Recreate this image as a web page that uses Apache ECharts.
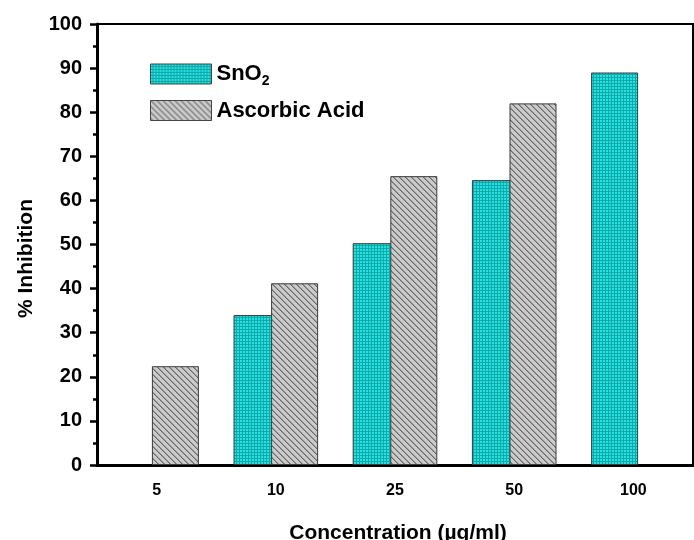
<!DOCTYPE html>
<html>
<head>
<meta charset="utf-8">
<script src="https://cdn.jsdelivr.net/npm/echarts@6/dist/echarts.min.js"></script>
<style>html,body{margin:0;padding:0;background:#fff}#c{width:694px;height:540px}</style>
</head>
<body>
<div id="c"></div>
<script>
const categories = ['5', '10', '25', '50', '100'];
const sno2 = [null, 34.0, 50.3, 64.6, 89.0];
const ascorbic = [22.4, 41.2, 65.5, 82.0, null];
const yTicks = [0, 10, 20, 30, 40, 50, 60, 70, 80, 90, 100];

function makeCanvas(w, h, draw) {
  const c = document.createElement('canvas');
  c.width = w; c.height = h;
  draw(c.getContext('2d'));
  return c;
}
const tealPat = makeCanvas(3, 3, ctx => {
  ctx.fillStyle = '#10a8a8'; ctx.fillRect(0, 0, 3, 3);
  ctx.fillStyle = '#22e2e2'; ctx.fillRect(0, 0, 2, 2);
});
const grayPat = makeCanvas(6, 6, ctx => {
  ctx.fillStyle = '#cbcbcb'; ctx.fillRect(0, 0, 6, 6);
  for (let i = 0; i < 6; i++) {
    ctx.fillStyle = '#6a6a6a'; ctx.fillRect(i, i, 1, 1);
    ctx.fillStyle = '#9a9a9a'; ctx.fillRect((i + 1) % 6, i, 1, 1);
  }
});

const FONT = 'Liberation Sans, Arial, sans-serif';
const chart = echarts.init(document.getElementById('c'), null, {renderer: 'canvas'});
chart.setOption({
  animation: false,
  backgroundColor: '#fff',
  grid: {left: 97, top: 24, width: 596, height: 441, show: true, borderColor: '#000', borderWidth: 2,
    containLabel: false, outerBoundsMode: 'none'},
  legend: {
    left: 145, top: 58, orient: 'vertical', itemWidth: 61, itemHeight: 20, itemGap: 11,
    icon: 'rect',
    itemStyle: {borderWidth: 1, borderColor: '#444'},
    formatter: n => n === 'SnO2' ? '{a|SnO}{s|2}' : '{a|' + n + '}',
    textStyle: {
      fontFamily: FONT, color: '#000',
      rich: {
        a: {fontFamily: FONT, fontWeight: 'bold', fontSize: 22, color: '#000'},
        s: {fontFamily: FONT, fontWeight: 'bold', fontSize: 14, color: '#000', padding: [15, 0, 0, 0]}
      }
    },
    data: ['SnO2', 'Ascorbic Acid']
  },
  xAxis: [{
    type: 'category', data: categories, position: 'bottom',
    axisLine: {lineStyle: {color: '#000', width: 3}},
    axisTick: {alignWithLabel: true, length: 7, lineStyle: {color: '#000', width: 2.5}},
    axisLabel: {fontFamily: FONT, fontWeight: 'bold', fontSize: 16, color: '#000', margin: 18},
    name: 'Concentration (µg/ml)', nameLocation: 'middle', nameGap: 58,
    nameTextStyle: {fontFamily: FONT, fontWeight: 'bold', fontSize: 21, color: '#000', padding: [0, 0, 0, 6]},
    splitLine: {show: false}
  }, {
    type: 'category', data: categories, position: 'bottom',
    axisLine: {show: false},
    axisTick: {alignWithLabel: false, length: 4, lineStyle: {color: '#000', width: 2.5}},
    axisLabel: {show: false}, splitLine: {show: false}
  }],
  yAxis: {
    type: 'value', min: 0, max: 100, interval: 10,
    axisLine: {show: true, lineStyle: {color: '#000', width: 3}},
    axisTick: {show: true, length: 7, lineStyle: {color: '#000', width: 2.5}},
    minorTick: {show: true, splitNumber: 2, length: 4, lineStyle: {color: '#000', width: 2.5}},
    axisLabel: {fontFamily: FONT, fontWeight: 'bold', fontSize: 20, color: '#000', margin: 15,
      formatter: v => yTicks.includes(v) ? String(v) : ''},
    splitLine: {show: false},
    name: '% Inhibition', nameLocation: 'middle', nameGap: 60,
    nameTextStyle: {fontFamily: FONT, fontWeight: 'bold', fontSize: 21, color: '#000', padding: [0, 28, 0, 0]}
  },
  series: [{
    name: 'SnO2', type: 'bar', data: sno2, barWidth: 47, barGap: '-20%',
    itemStyle: {color: {image: tealPat, repeat: 'repeat'}, borderColor: '#3a3a3a', borderWidth: 1}
  }, {
    name: 'Ascorbic Acid', type: 'bar', data: ascorbic, barWidth: 47, barGap: '-20%',
    itemStyle: {color: {image: grayPat, repeat: 'repeat'}, borderColor: '#3a3a3a', borderWidth: 1}
  }]
});
</script>
</body>
</html>
